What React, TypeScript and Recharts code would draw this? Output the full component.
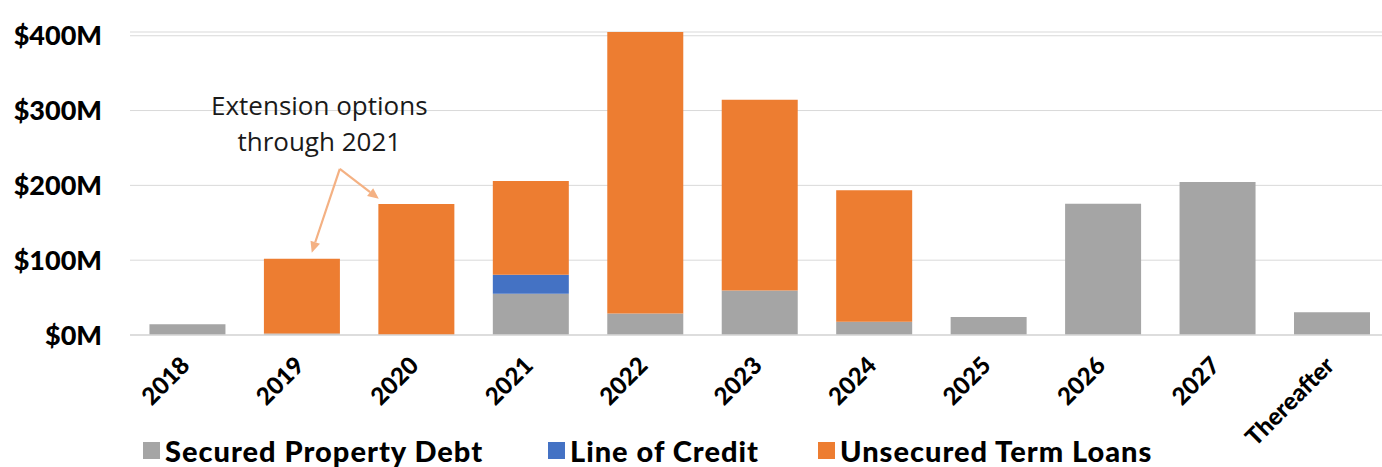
import { Bar, BarChart, CartesianGrid, Legend, ReferenceDot, ReferenceLine, XAxis, YAxis } from "recharts"

const years = ["2018", "2019", "2020", "2021", "2022", "2023", "2024", "2025", "2026", "2027", "Thereafter"]
const securedDebt = [14.5, 2, 0, 55, 28.6, 59.4, 17.6, 24, 175.5, 204.6, 30.5]
const lineOfCredit = [0, 0, 0, 25.5, 0, 0, 0, 0, 0, 0, 0]
const unsecuredLoans = [0, 100, 175, 125.5, 376.4, 255.2, 176, 0, 0, 0, 0]
const yTicks = [0, 100, 200, 300, 400]

const series = [
  { key: "secured", name: "Secured Property Debt", color: "#A5A5A5", values: securedDebt, legendWidth: 405 },
  { key: "credit", name: "Line of Credit", color: "#4472C4", values: lineOfCredit, legendWidth: 270 },
  { key: "unsecured", name: "Unsecured Term Loans", color: "#ED7D31", values: unsecuredLoans, legendWidth: 380 },
]

const data = years.map((year, i) => ({
  year,
  secured: securedDebt[i],
  credit: lineOfCredit[i],
  unsecured: unsecuredLoans[i],
}))

// annotation positions in "band units": category i spans [i, i + 1]
const arrowApex = { x: 1.833, y: 222 }
const arrowTips = [
  { x: 1.588, y: 110 },
  { x: 2.174, y: 182 },
]
const noteLines = [
  { text: "Extension options", x: 1.654, y: 306 },
  { text: "through 2021", x: 1.654, y: 258 },
]

// the hidden number axis spans the row indexes 0..n-1 across the full plot width
const n = years.length
const toNote = (p: { x: number; y: number }) => ({ x: (p.x * (n - 1)) / n, y: p.y })

const boldFont = "Lato, 'Open Sans', sans-serif"
const noteFont = "'Open Sans', Lato, sans-serif"
const arrowColor = "#F4B183"

function YearTick({ x, y, payload }: any) {
  const ax = x + 4
  const ay = y + 24
  return (
    <text
      x={ax}
      y={ay}
      transform={`rotate(-45, ${ax}, ${ay})`}
      textAnchor="end"
      fontFamily={boldFont}
      fontWeight={900}
      fontSize={24}
      fill="#000"
    >
      {payload.value}
    </text>
  )
}

function ArrowShape(props: any) {
  const { x1, y1, x2, y2 } = props
  if ([x1, y1, x2, y2].some((v) => v === undefined || isNaN(v))) return null
  const ang = Math.atan2(y2 - y1, x2 - x1)
  const len = 11
  const w = 5
  const bx = x2 - len * Math.cos(ang)
  const by = y2 - len * Math.sin(ang)
  const px = -Math.sin(ang) * w
  const py = Math.cos(ang) * w
  return (
    <g>
      <line x1={x1} y1={y1} x2={bx} y2={by} stroke={arrowColor} strokeWidth={2.2} />
      <polygon points={`${x2},${y2} ${bx + px},${by + py} ${bx - px},${by - py}`} fill={arrowColor} />
    </g>
  )
}

function LegendContent() {
  return (
    <div
      style={{
        display: "flex",
        alignItems: "center",
        boxSizing: "border-box",
        height: 44,
        paddingTop: 11,
        paddingLeft: 143,
      }}
    >
      {series.map((s) => (
        <div key={s.key} style={{ display: "flex", alignItems: "center", width: s.legendWidth, flexShrink: 0 }}>
          <span style={{ width: 17, height: 17, background: s.color, display: "inline-block", marginRight: 5 }} />
          <span
            style={{
              fontFamily: boldFont,
              fontWeight: 900,
              fontSize: 29,
              letterSpacing: 1,
              lineHeight: "30px",
              color: "#000",
              whiteSpace: "nowrap",
            }}
          >
            {s.name}
          </span>
        </div>
      ))}
    </div>
  )
}

export default function App() {
  return (
    <div style={{ position: "absolute", left: 0, top: 0, width: 1382, height: 467, overflow: "hidden", background: "#fff" }}>
      <BarChart
        width={1389}
        height={467}
        data={data}
        margin={{ top: 32, right: 0, left: 0, bottom: 0 }}
        barCategoryGap="17%"
      >
        <CartesianGrid vertical={false} stroke="#D9D9D9" strokeWidth={1} />
        <XAxis
          dataKey="year"
          tick={<YearTick />}
          tickLine={false}
          axisLine={{ stroke: "#D9D9D9", strokeWidth: 1.5 }}
          interval={0}
          height={88}
        />
        <XAxis xAxisId="note" type="number" domain={[0, n - 1]} allowDataOverflow hide />
        <YAxis
          width={130}
          domain={[0, 400]}
          ticks={yTicks}
          tickFormatter={(v) => `$${v}M`}
          tickLine={false}
          axisLine={false}
          tickSize={0}
          tickMargin={28}
          tick={{ fontFamily: boldFont, fontWeight: 900, fontSize: 27, fill: "#000" }}
        />
        <Legend verticalAlign="bottom" content={<LegendContent />} />
        {series.map((s) => (
          <Bar key={s.key} dataKey={s.key} name={s.name} stackId="a" fill={s.color} isAnimationActive={false} />
        ))}
        {arrowTips.map((tip, i) => (
          <ReferenceLine
            key={i}
            xAxisId="note"
            segment={[toNote(arrowApex), toNote(tip)]}
            shape={<ArrowShape />}
            ifOverflow="visible"
          />
        ))}
        {noteLines.map((line) => {
          const p = toNote(line)
          return (
            <ReferenceDot
              key={line.text}
              xAxisId="note"
              x={p.x}
              y={p.y}
              r={0}
              ifOverflow="visible"
              label={{ value: line.text, position: "center", fontFamily: noteFont, fontSize: 26, fill: "#1a1a1a" }}
            />
          )
        })}
      </BarChart>
    </div>
  )
}
